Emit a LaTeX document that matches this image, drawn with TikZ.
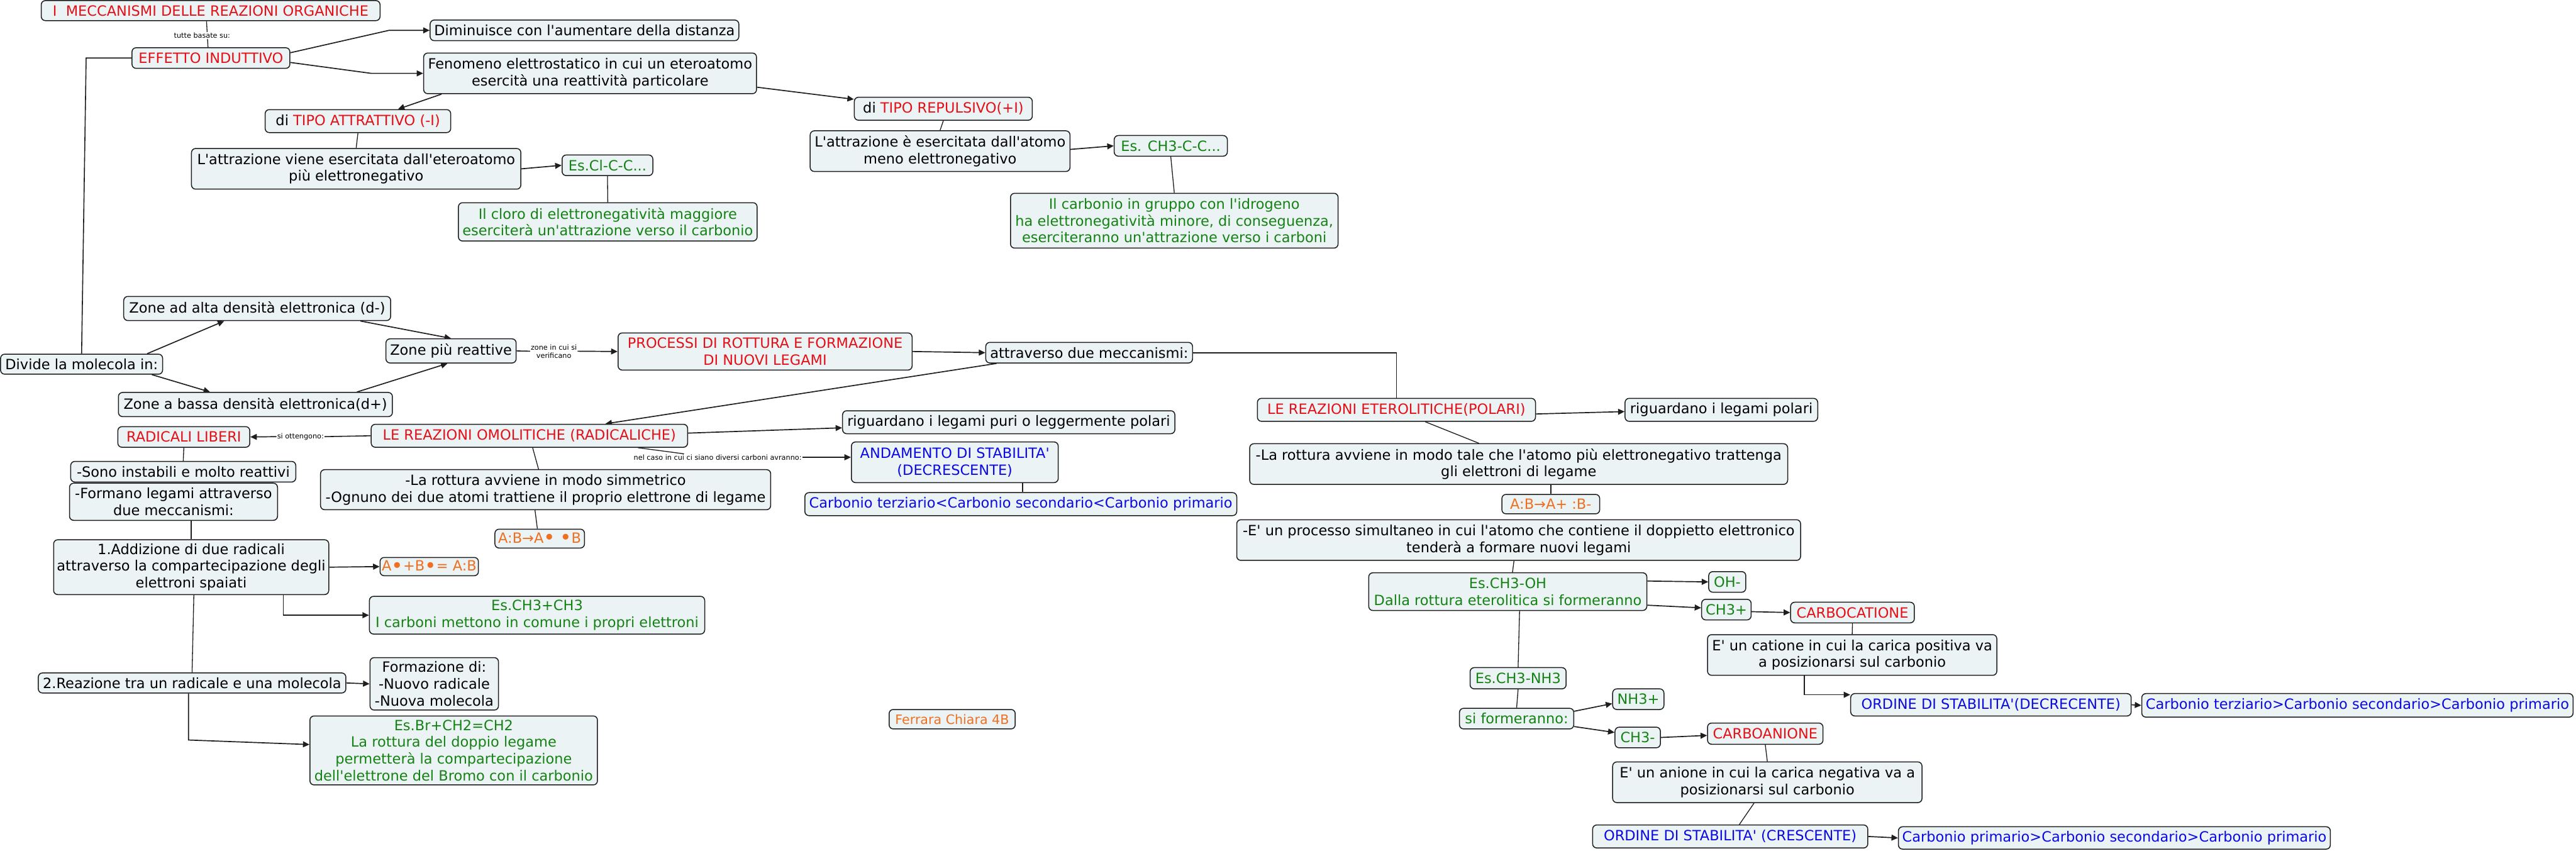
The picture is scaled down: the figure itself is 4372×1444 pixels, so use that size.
\documentclass[tikz,border=0pt]{standalone}
\usepackage{fontspec}
\usepackage{graphicx}
\setmainfont{DejaVu Sans}[Ligatures=TeXOff]
\usetikzlibrary{arrows.meta,calc}
\pgfdeclarelayer{bgzero}
\pgfdeclarelayer{background}
\pgfsetlayers{bgzero,background,main}
\definecolor{cred}{RGB}{228,16,24}
\definecolor{cgreen}{RGB}{20,130,20}
\definecolor{cblue}{RGB}{10,10,225}
\definecolor{corange}{RGB}{238,112,32}
\definecolor{boxfill}{RGB}{236,243,244}
\definecolor{bdr}{RGB}{30,30,30}
\definecolor{lnk}{RGB}{30,30,30}
\newcommand\fsbig{\fontsize{24pt}{28.5pt}\selectfont}
\newcommand\fsmid{\fontsize{22pt}{26pt}\selectfont}
\newcommand\fssmall{\fontsize{12pt}{14pt}\selectfont}
\newcommand\bul{\raisebox{-0.12em}{\scalebox{1.4}{•}}}
\newcommand\mkbox[7]{\node[#6, minimum width=#4pt, minimum height=#5pt] (#1) at (#2,#3) {#7};}
\begin{document}
\begin{tikzpicture}[x=1pt,y=-1pt,
 box/.style={draw=bdr, fill=boxfill, rounded corners=7pt, line width=1.6pt, align=center, font=\fsbig, inner xsep=3pt, inner ysep=1pt, text=black},
 tred/.style={box,text=cred}, tgreen/.style={box,text=cgreen}, tblue/.style={box,text=cblue}, torange/.style={box,text=corange}, tblack/.style={box},
 lab/.style={font=\fssmall, fill=white, inner sep=1pt, align=center},
 arr/.style={draw=lnk, line width=1.8pt, -{Triangle[length=11pt,width=10pt]}},
 plain/.style={draw=lnk, line width=1.4pt},
 midline/.style={draw=lnk, line width=1.7pt},
 ]
\useasboundingbox (0,0) rectangle (4372,1444);
\begin{pgfonlayer}{bgzero}
\fill[white] (0,0) rectangle (4372,1444);
\end{pgfonlayer}

% ---- top part
\mkbox{title}{357.5}{18}{575}{34}{tred}{I\ \ MECCANISMI DELLE REAZIONI ORGANICHE}
\mkbox{effetto}{358}{98.5}{268}{35}{tred}{EFFETTO INDUTTIVO}
\mkbox{dimin}{992}{51.5}{524}{35}{tblack}{Diminuisce con l'aumentare della distanza}
\mkbox{fenomeno}{1001.5}{124.5}{565}{69}{tblack}{Fenomeno elettrostatico in cui un eteroatomo\\esercità una reattività particolare}
\mkbox{attratt}{607.5}{205.5}{315}{39}{tblack}{di \textcolor{cred}{TIPO ATTRATTIVO (-I)}}
\mkbox{lattr}{604.5}{286.5}{559}{69}{tblack}{L'attrazione viene esercitata dall'eteroatomo\\più elettronegativo}
\mkbox{escl}{1031}{280.5}{154}{35}{tgreen}{Es.Cl-C-C...}
\mkbox{cloro}{1031.5}{376.5}{507}{65}{tgreen}{Il cloro di elettronegatività maggiore\\eserciterà un'attrazione verso il carbonio}
\mkbox{repuls}{1601}{184.5}{302}{39}{tblack}{di \textcolor{cred}{TIPO REPULSIVO(+I)}}
\mkbox{lattrb}{1595.5}{256.5}{441}{69}{tblack}{L'attrazione è esercitata dall'atomo\\meno elettronegativo}
\mkbox{esch}{1987}{247.5}{192}{35}{tgreen}{Es. CH3-C-C...}
\mkbox{carbonio}{1993}{374.5}{556}{93}{tgreen}{Il carbonio in gruppo con l'idrogeno\\ha elettronegatività minore, di conseguenza,\\eserciteranno un'attrazione verso i carboni}
\node[lab] (lab1) at (343,60) {tutte basate su:};

% ---- middle left
\mkbox{divide}{138.5}{618}{275}{34}{tblack}{Divide la molecola in:}
\mkbox{alta}{436.5}{523.5}{453}{41}{tblack}{Zone ad alta densità elettronica (d-)}
\mkbox{bassa}{433.5}{686.5}{465}{41}{tblack}{Zone a bassa densità elettronica(d+)}
\mkbox{reatt}{765.5}{595.5}{221}{41}{tblack}{Zone più reattive}
\node[lab] (lab2) at (940,596) {zone in cui si\\verificano};
\mkbox{processi}{1298.5}{596.5}{499}{63}{tred}{PROCESSI DI ROTTURA E FORMAZIONE\\DI NUOVI LEGAMI}
\mkbox{attrav}{1848.5}{598.5}{351}{35}{tblack}{attraverso due meccanismi:}

% ---- omolitiche
\mkbox{omol}{898.5}{739.5}{537}{39}{tred}{LE REAZIONI OMOLITICHE (RADICALICHE)}
\mkbox{rigpuri}{1712}{716.5}{564}{39}{tblack}{riguardano i legami puri o leggermente polari}
\node[lab] (lab3) at (1218,776) {nel caso in cui ci siano diversi carboni avranno:};
\mkbox{andam}{1620.5}{784.5}{351}{69}{tblue}{ANDAMENTO DI STABILITA'\\(DECRESCENTE)}
\mkbox{cterzb}{1732.5}{855.5}{733}{39}{tblue}{Carbonio terziario<Carbonio secondario<Carbonio primario}
\node[lab] (lab4) at (510,741) {si ottengono:};
\mkbox{radic}{312}{741.5}{224}{35}{tred}{RADICALI LIBERI}
\mkbox{sono}{311}{800.5}{382}{35}{tblack}{-Sono instabili e molto reattivi}
\mkbox{formano}{294.5}{851.5}{353}{63}{tblack}{-Formano legami attraverso\\due meccanismi:}
\mkbox{larott}{926}{831}{764}{68}{tblack}{-La rottura avviene in modo simmetrico\\-Ognuno dei due atomi trattiene il proprio elettrone di legame}
\mkbox{abdot}{916}{914}{152}{32}{torange}{A:B→A\bul{} \bul B}
\mkbox{addiz}{324.5}{962.5}{467}{93}{tblack}{1.Addizione di due radicali\\attraverso la compartecipazione degli\\elettroni spaiati}
\mkbox{abplusdot}{728.5}{961.5}{167}{31}{torange}{A\bul+B\bul= A:B}
\mkbox{esccc}{911.5}{1044}{569}{64}{tgreen}{Es.CH3+CH3\\I carboni mettono in comune i propri elettroni}
\mkbox{reaz}{326}{1159}{522}{34}{tblack}{2.Reazione tra un radicale e una molecola}
\mkbox{formaz}{737}{1160.5}{218}{89}{tblack}{Formazione di:\\-Nuovo radicale\\-Nuova molecola}
\mkbox{esbr}{770}{1273.5}{488}{117}{tgreen}{Es.Br+CH2=CH2\\La rottura del doppio legame\\permetterà la compartecipazione\\dell'elettrone del Bromo con il carbonio}
\node[box, text=corange, font=\fsmid, minimum width=214pt, minimum height=33pt] (ferrara) at (1616,1220.5) {Ferrara Chiara 4B};

% ---- eterolitiche
\mkbox{etero}{2370}{695.5}{472}{39}{tred}{LE REAZIONI ETEROLITICHE(POLARI)}
\mkbox{rigpol}{2921.5}{695.5}{327}{39}{tblack}{riguardano i legami polari}
\mkbox{lattrott}{2577.5}{787.5}{913}{69}{tblack}{-La rottura avviene in modo tale che l'atomo più elettronegativo trattenga\\gli elettroni di legame}
\mkbox{abplus}{2632}{855.5}{166}{33}{torange}{A:B→A+ :B-}
\mkbox{eproc}{2577.5}{916.5}{957}{69}{tblack}{-E' un processo simultaneo in cui l'atomo che contiene il doppietto elettronico\\tenderà a formare nuovi legami}
\mkbox{esoh}{2559}{1004}{472}{64}{tgreen}{Es.CH3-OH\\Dalla rottura eterolitica si formeranno}
\mkbox{ohm}{2931.5}{987.5}{63}{35}{tgreen}{OH-}
\mkbox{chp}{2930}{1034.5}{84}{35}{tgreen}{CH3+}
\mkbox{carbocat}{3144}{1039.5}{210}{35}{tred}{CARBOCATIONE}
\mkbox{catione}{3143.5}{1111.5}{491}{69}{tblack}{E' un catione in cui la carica positiva va\\a posizionarsi sul carbonio}
\mkbox{orddec}{3379}{1196}{476}{38}{tblue}{ORDINE DI STABILITA'(DECRECENTE)}
\mkbox{cterz}{4001}{1197}{732}{40}{tblue}{Carbonio terziario>Carbonio secondario>Carbonio primario}
\mkbox{esnh}{2576.5}{1151}{163}{36}{tgreen}{Es.CH3-NH3}
\mkbox{siform}{2574}{1219.5}{194}{35}{tgreen}{si formeranno:}
\mkbox{nhp}{2780.5}{1186.5}{87}{35}{tgreen}{NH3+}
\mkbox{chm}{2779.5}{1251.5}{77}{35}{tgreen}{CH3-}
\mkbox{carboan}{2996}{1245}{196}{36}{tred}{CARBOANIONE}
\mkbox{anione}{2999.5}{1327.5}{525}{69}{tblack}{E' un anione in cui la carica negativa va a\\posizionarsi sul carbonio}
\mkbox{ordcres}{2936.5}{1419.5}{467}{39}{tblue}{ORDINE DI STABILITA' (CRESCENTE)}
\mkbox{cprim}{3588.5}{1422}{733}{38}{tblue}{Carbonio primario>Carbonio secondario>Carbonio primario}

\begin{pgfonlayer}{background}
% top
\draw[plain] ([xshift=-7pt]title.south) -- ([xshift=-5pt]effetto.north);
\draw[midline] (divide.north) -- ($(effetto.west)+(-77,0)$) -- (effetto.west);
\draw[arr] ([yshift=9pt]effetto.east) -- ($(dimin.west)+(-69,0)$) -- (dimin.west);
\draw[arr] ([yshift=-7.5pt]effetto.east) -- ($(fenomeno.west)+(-88,0)$) -- (fenomeno.west);
\draw[arr] ([xshift=31pt]fenomeno.south west) -- ([xshift=68pt]attratt.north);
\draw[plain] (attratt.south) -- (lattr.north);
\draw[arr] (lattr.east) -- (escl.west);
\draw[plain] (escl.south) -- (cloro.north);
\draw[arr] ([yshift=-23.5pt]fenomeno.east) -- ([yshift=16pt]repuls.west);
\draw[plain] (repuls.south) -- (lattrb.north);
\draw[arr] ([yshift=3pt]lattrb.east) -- (esch.west);
\draw[plain] (esch.south) -- (carbonio.north);
% middle
\draw[arr] ([xshift=-27pt]divide.north east) -- ([xshift=-56pt]alta.south);
\draw[arr] ([xshift=-19pt]divide.south east) -- ([xshift=-77pt]bassa.north);
\draw[arr] ([xshift=-52pt]alta.south east) -- (reatt.north);
\draw[arr] ([xshift=-61pt]bassa.north east) -- ([xshift=-6pt]reatt.south);
\draw[midline] (reatt.east) -- (lab2.west);
\draw[arr] (lab2.east) -- (processi.west);
\draw[arr] (processi.east) -- (attrav.west);
\draw[midline] (attrav.east) -| (etero.north);
\draw[arr] ([xshift=19pt]attrav.south west) -- ([xshift=129pt]omol.north);
% omolitiche
\draw[arr] ([yshift=4.5pt]omol.east) -- ([yshift=-9.5pt]rigpuri.west);
\draw[plain] ([xshift=-85pt]omol.south east) -- ([xshift=-57pt]lab3.north);
\draw[arr] (lab3.east) -- (andam.west |- lab3.east);
\draw[plain] ([xshift=115pt]andam.south) -- ([xshift=3pt]cterzb.north);
\draw[midline] (omol.west) -- (lab4.east);
\draw[arr] (lab4.west) -- (radic.east);
\draw[plain] (radic.south) -- (sono.north);
\draw[plain] ([xshift=30pt]formano.south) -- (addiz.north);
\draw[plain] ([xshift=5.5pt]omol.south) -- ([xshift=-12pt]larott.north);
\draw[plain] ([xshift=-18pt]larott.south) -- ([xshift=-4pt]abdot.north);
\draw[arr] (addiz.east) -- (abplusdot.west);
\draw[arr] ([xshift=156.5pt]addiz.south) |- (esccc.west);
\draw[plain] ([xshift=4.5pt]addiz.south) -- (reaz.north);
\draw[arr] (reaz.east) -- (formaz.west);
\draw[arr] ([xshift=-6pt]reaz.south) -- ($(reaz.south)+(-6,79)$) -- ([yshift=10pt]esbr.west);
% eterolitiche
\draw[arr] ([yshift=-7pt]etero.east) -- ([yshift=-3pt]rigpol.west);
\draw[plain] ([xshift=49pt]etero.south) -- ([xshift=-67.5pt]lattrott.north);
\draw[plain] (abplus.north |- lattrott.south) -- (abplus.north);
\draw[plain] ([xshift=-8pt]eproc.south) -- ([xshift=8pt]esoh.north);
\draw[arr] ([yshift=18pt]esoh.east) -- (ohm.west);
\draw[arr] ([yshift=-23pt]esoh.east) -- ([yshift=3pt]chp.west);
\draw[arr] ([yshift=-3.5pt]chp.east) -- (carbocat.west);
\draw[plain] (carbocat.south) -- (catione.north);
\draw[arr] ([xshift=-81pt]catione.south) |- ([yshift=17pt]orddec.west);
\draw[arr] (orddec.east) -- (cterz.west);
\draw[plain] ([xshift=20pt]esoh.south) -- (esnh.north);
\draw[plain] (esnh.south) -- (siform.north);
\draw[arr] ([yshift=12.5pt]siform.east) -- ([yshift=-7.5pt]nhp.west);
\draw[arr] ([yshift=-13.5pt]siform.east) -- ([yshift=8.5pt]chm.west);
\draw[arr] (chm.east) -- ([yshift=-3pt]carboan.west);
\draw[plain] (carboan.south) -- (anione.north);
\draw[plain] ([xshift=-22.5pt]anione.south) -- ([xshift=15.5pt]ordcres.north);
\draw[arr] (ordcres.east) -- (cprim.west);
\end{pgfonlayer}
\end{tikzpicture}
\end{document}
